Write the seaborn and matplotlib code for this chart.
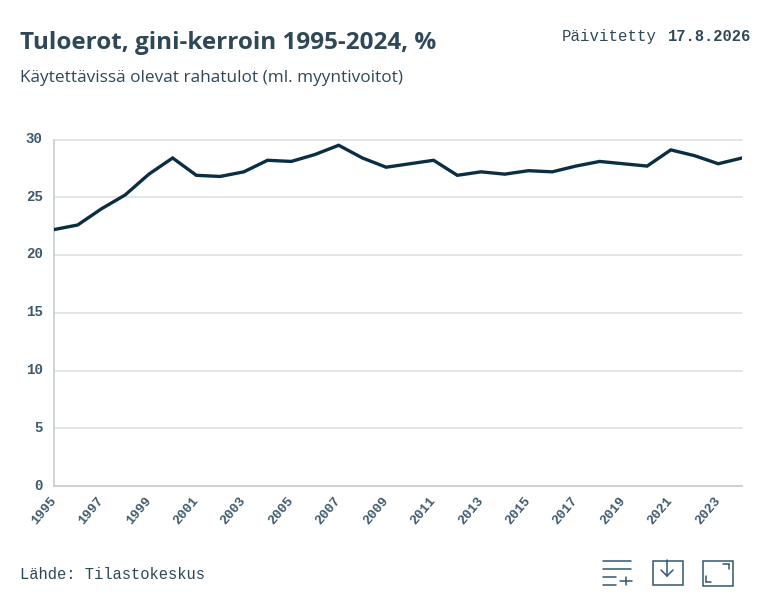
import matplotlib
matplotlib.use('Agg')
import matplotlib.pyplot as plt
from matplotlib.lines import Line2D
from matplotlib.patches import Rectangle
from matplotlib.transforms import ScaledTranslation
import pandas as pd
import seaborn as sns

years = list(range(1995, 2025))
gini = [22.2, 22.6, 24.0, 25.2, 27.0, 28.4, 26.9, 26.8, 27.2, 28.2,
        28.1, 28.7, 29.5, 28.4, 27.6, 27.9, 28.2, 26.9, 27.2, 27.0,
        27.3, 27.2, 27.7, 28.1, 27.9, 27.7, 29.1, 28.6, 27.9, 28.4]
y_ticks = [0, 5, 10, 15, 20, 25, 30]
x_ticks = years[::2]

W, H = 773, 605
DARK = '#0b2e42'
TEXT = '#2f4858'
TICK = '#3f5a6c'
ICON = '#33566e'
SANS = 'Open Sans'
MONO = 'Liberation Mono'

sns.set_theme(style='white')
df = pd.DataFrame({'year': years, 'gini': gini})

fig = plt.figure(figsize=(W / 100, H / 100), dpi=100, facecolor='white')
# plot area in pixels from the reference: x 54-742, y 139.5-486
ax = fig.add_axes([54 / W, 1 - 486 / H, (742 - 54) / W, (486 - 139.5) / H])

sns.lineplot(data=df, x='year', y='gini', ax=ax, color=DARK, linewidth=2.4,
             errorbar=None, solid_joinstyle='miter', zorder=3)

ax.set_xlim(1995, 2024)
ax.set_ylim(0, 30)
ax.set_xlabel('')
ax.set_ylabel('')
ax.set_yticks(y_ticks)
ax.set_xticks(x_ticks)
ax.grid(axis='y', color='#dde2e6', linewidth=1.2, clip_on=False)
ax.grid(axis='x', visible=False)
for side in ['top', 'right']:
    ax.spines[side].set_visible(False)
for side in ['left', 'bottom']:
    ax.spines[side].set_color('#c6ced4')
    ax.spines[side].set_linewidth(1.2)
ax.tick_params(axis='y', length=0, pad=8)
ax.tick_params(axis='x', length=0, pad=9)
# y labels sit about 2px higher in the reference
nudge = ScaledTranslation(0, 2 / 100, fig.dpi_scale_trans)
for lab in ax.get_yticklabels():
    lab.set(family=MONO, fontsize=10.2, fontweight='bold', color=TICK,
            va='center_baseline')
    lab.set_transform(lab.get_transform() + nudge)
for lab in ax.get_xticklabels():
    lab.set(family=MONO, fontsize=9.5, fontweight='bold', color=TICK,
            rotation=50, ha='right', va='center', rotation_mode='anchor')

# header and footer
fig.text(20 / W, 1 - 49 / H, 'Tuloerot, gini-kerroin 1995-2024, %', family=SANS,
         fontsize=17.5, fontweight='bold', color=TEXT, va='baseline')
fig.text(20 / W, 1 - 82 / H, 'Käytettävissä olevat rahatulot (ml. myyntivoitot)',
         family=SANS, fontsize=12.45, color=TEXT, va='baseline')
fig.text(562 / W, 1 - 41 / H, 'Päivitetty', family=MONO, fontsize=11.3, color=TEXT, va='baseline')
fig.text(751 / W, 1 - 41 / H, '17.8.2026', family=MONO, fontsize=11.2, fontweight='bold',
         color=TEXT, va='baseline', ha='right')
fig.text(20 / W, 1 - 579 / H, 'Lähde: Tilastokeskus', family=MONO, fontsize=11.2,
         color=TEXT, va='baseline')

# toolbar icons, drawn on an overlay in pixel coordinates
ov = fig.add_axes([0, 0, 1, 1], facecolor='none')
ov.set_xlim(0, W)
ov.set_ylim(H, 0)
ov.axis('off')

def seg(x0, y0, x1, y1, lw=1.1):
    ov.add_line(Line2D([x0, x1], [y0, y1], color=ICON, linewidth=lw))

seg(603, 560.5, 631, 560.5)
seg(603, 568.5, 631, 568.5)
seg(603, 576.5, 616, 576.5)
seg(603, 584.5, 616, 584.5)
seg(620, 580.5, 632, 580.5)
seg(626, 577, 626, 585)

ov.add_patch(Rectangle((652.5, 560.5), 30, 24.5, fill=False, edgecolor=ICON, linewidth=1.1))
seg(667, 560, 667, 576)
seg(661, 570, 667, 576)
seg(673, 570, 667, 576)

ov.add_patch(Rectangle((702.5, 560.5), 30, 25, fill=False, edgecolor=ICON, linewidth=1.1))
seg(723, 563.5, 729, 563.5)
seg(729, 563.5, 729, 569)
seg(706, 576, 706, 582)
seg(706, 582, 711, 582)

fig.savefig('out.png', dpi=100)
